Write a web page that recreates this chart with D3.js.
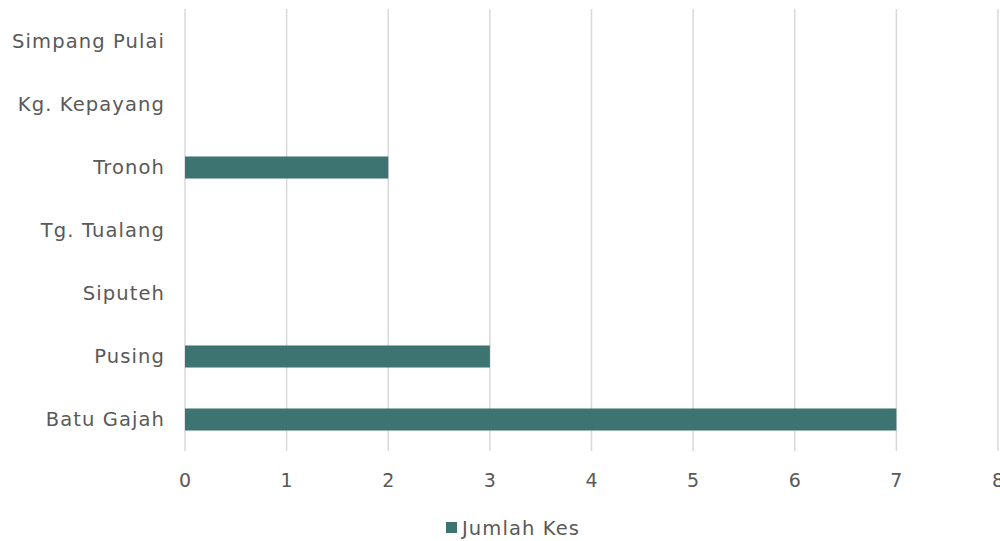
<!DOCTYPE html>
<html><head><meta charset="utf-8">
<script src="https://cdn.jsdelivr.net/npm/d3@7"></script>
<style>body{margin:0;background:#fff}svg text{font-family:"DejaVu Sans",sans-serif;fill:#595959}</style>
</head><body><svg id="c" width="1000" height="541"></svg>
<script>
const categories = ["Simpang Pulai","Kg. Kepayang","Tronoh","Tg. Tualang","Siputeh","Pusing","Batu Gajah"];
const values = [0,0,2,0,0,3,7];
const xTicks = [0,1,2,3,4,5,6,7,8];
const seriesName = "Jumlah Kes";

const svg = d3.select("#c");
const x = d3.scaleLinear().domain([0,8]).range([185,998]);
const y = d3.scaleBand().domain(categories).range([10,451]).paddingInner(0.65).paddingOuter(0.325);
const color = "#3d7370";

svg.append("g").selectAll("line").data(xTicks).join("line")
  .attr("x1",d=>x(d)).attr("x2",d=>x(d)).attr("y1",9).attr("y2",451)
  .attr("stroke","#d9d9d9").attr("stroke-width",1.5);

svg.append("g").selectAll("rect").data(categories).join("rect")
  .attr("x",x(0)).attr("y",d=>y(d))
  .attr("width",(d,i)=>x(values[i])-x(0)).attr("height",y.bandwidth())
  .attr("fill",color);

svg.append("g").selectAll("text").data(categories).join("text")
  .attr("x",165).attr("y",d=>y(d)+y.bandwidth()/2).attr("dy","0.35em")
  .attr("text-anchor","end").style("font-size","19.5px").style("letter-spacing","1.1px").text(d=>d);

svg.append("g").selectAll("text").data(xTicks).join("text")
  .attr("x",d=>x(d)).attr("y",480).attr("dy","0.35em")
  .attr("text-anchor","middle").style("font-size","19px").text(d=>d);

const lg = svg.append("g");
lg.append("rect").attr("x",446).attr("y",522).attr("width",11).attr("height",11).attr("fill",color);
lg.append("text").attr("x",462).attr("y",528).attr("dy","0.35em").style("font-size","19.5px").style("letter-spacing","1.1px").text(seriesName);
</script></body></html>
